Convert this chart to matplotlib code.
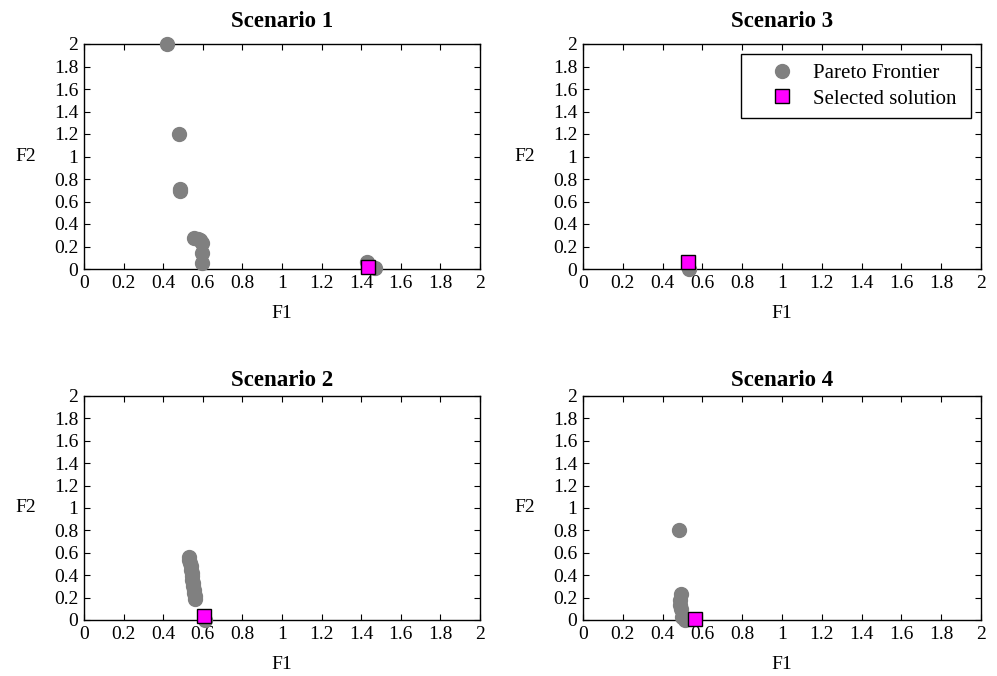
import matplotlib
matplotlib.use('Agg')
import matplotlib.pyplot as plt

plt.rcParams['font.family'] = ['Liberation Serif', 'DejaVu Serif']

# pareto points per scenario (F1, F2)
s1_f1 = [0.42, 0.48, 0.485, 0.485, 0.557, 0.575, 0.586, 0.594, 0.596, 0.598, 1.428, 1.47]
s1_f2 = [2.0, 1.2, 0.715, 0.69, 0.275, 0.27, 0.262, 0.228, 0.145, 0.056, 0.06, 0.01]
s1_sel = (1.435, 0.02)

s2_f1 = [0.530, 0.532, 0.535, 0.538, 0.541, 0.543, 0.545, 0.547, 0.549, 0.551, 0.554, 0.557, 0.560, 0.563, 0.61]
s2_f2 = [0.56, 0.54, 0.51, 0.48, 0.45, 0.42, 0.39, 0.36, 0.33, 0.30, 0.27, 0.24, 0.21, 0.19, 0.0]
s2_sel = (0.608, 0.035)

s3_f1 = [0.535]
s3_f2 = [0.0]
s3_sel = (0.53, 0.058)

s4_f1 = [0.483, 0.493, 0.487, 0.486, 0.490, 0.498, 0.515]
s4_f2 = [0.80, 0.235, 0.18, 0.13, 0.10, 0.03, 0.0]
s4_sel = (0.565, 0.01)

ticks = [0, 0.2, 0.4, 0.6, 0.8, 1, 1.2, 1.4, 1.6, 1.8, 2]
tick_labels = ['0', '0.2', '0.4', '0.6', '0.8', '1', '1.2', '1.4', '1.6', '1.8', '2']

fig = plt.figure(figsize=(9.97, 6.76), dpi=100)
W, H = 997.0, 676.0
# pixel boxes of each panel (left, top, right, bottom) and title pad
boxes = {
    'Scenario 1': (84, 44, 480, 269, 12),
    'Scenario 3': (583, 44, 981, 269, 12),
    'Scenario 2': (84, 396, 480, 620, 7),
    'Scenario 4': (583, 396, 981, 620, 7),
}
data = {
    'Scenario 1': (s1_f1, s1_f2, s1_sel),
    'Scenario 2': (s2_f1, s2_f2, s2_sel),
    'Scenario 3': (s3_f1, s3_f2, s3_sel),
    'Scenario 4': (s4_f1, s4_f2, s4_sel),
}

gray = '#808080'
for name, (x0, y0, x1, y1, tpad) in boxes.items():
    ax = fig.add_axes([x0 / W, 1 - y1 / H, (x1 - x0) / W, (y1 - y0) / H])
    f1, f2, sel = data[name]
    ax.plot(f1, f2, 'o', color=gray, markersize=10, markeredgecolor=gray,
            clip_on=False, zorder=3, label='Pareto Frontier')
    ax.plot([sel[0]], [sel[1]], 's', color='#ff00ff', markersize=10.5,
            markeredgecolor='black', markeredgewidth=1.0, clip_on=False,
            zorder=4, label='Selected solution')
    ax.set_xlim(0, 2)
    ax.set_ylim(0, 2)
    ax.set_xticks(ticks)
    ax.set_yticks(ticks)
    ax.set_xticklabels(tick_labels)
    ax.set_yticklabels(tick_labels)
    ax.tick_params(direction='in', length=4.5, width=0.8, top=True, right=True,
                   labelsize=14, pad=4)
    for sp in ax.spines.values():
        sp.set_linewidth(1.0)
    ax.set_xlabel('F1', fontsize=14, labelpad=10)
    ax.set_ylabel('F2', fontsize=14, rotation=0, labelpad=20, va='center')
    ax.set_title(name, fontsize=16.5, fontweight='bold', pad=tpad)
    if name == 'Scenario 3':
        leg = ax.legend(loc='upper left', fontsize=15, fancybox=False,
                        edgecolor='black', framealpha=1, borderpad=0.45,
                        handletextpad=0.0, handlelength=3.0, labelspacing=0.3,
                        bbox_to_anchor=(0.397, 0.667, 0.578, 0.289),
                        mode='expand', borderaxespad=0, markerscale=1.0)
        leg.get_frame().set_linewidth(1.0)

fig.savefig('out.png', dpi=100)
